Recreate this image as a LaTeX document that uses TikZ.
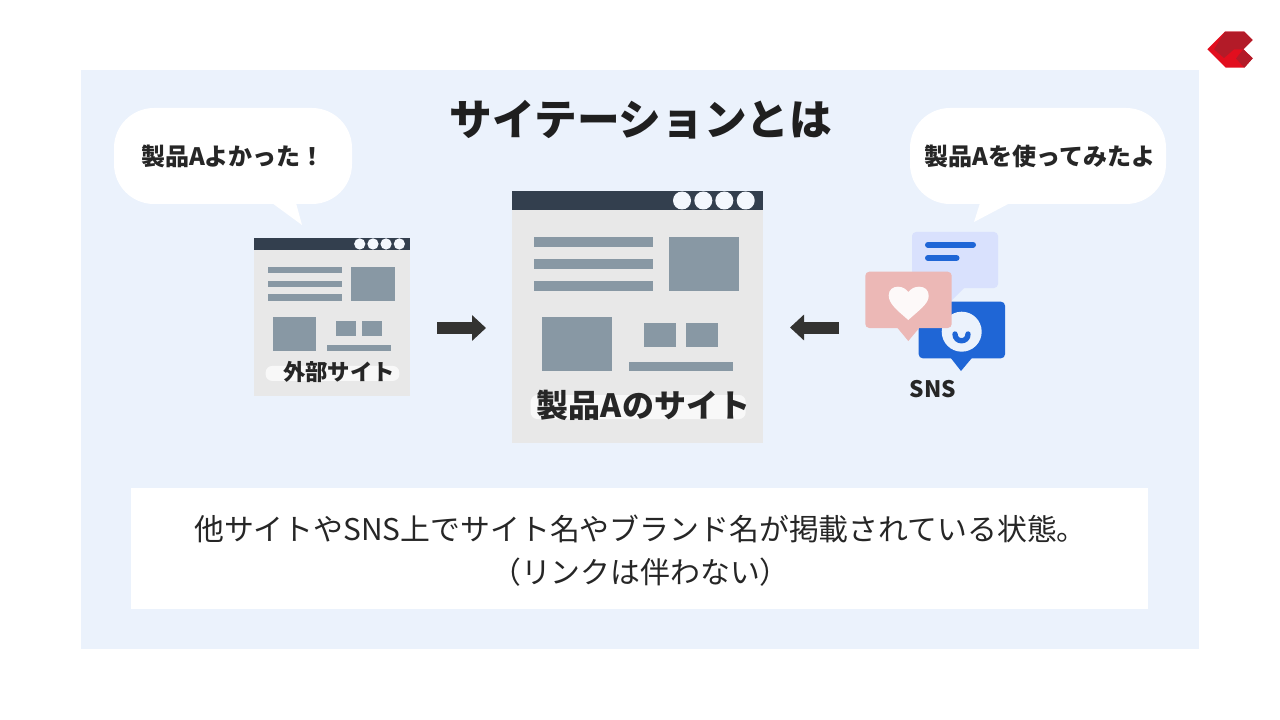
\documentclass[tikz,border=0pt]{standalone}
\usepackage{fontspec}
\setmainfont{Noto Sans CJK JP}
\usetikzlibrary{arrows.meta,positioning,calc}
\definecolor{panelblue}{HTML}{EBF2FC}
\definecolor{sitegrey}{HTML}{E8E8E8}
\definecolor{sitebar}{HTML}{333F4E}
\definecolor{siteblock}{HTML}{8898A4}
\definecolor{arrowdark}{HTML}{333331}
\definecolor{snsblue}{HTML}{1F66D6}
\definecolor{snslight}{HTML}{D9E1FD}
\definecolor{snspink}{HTML}{ECB8B6}
\definecolor{logored}{HTML}{E20E1E}
\definecolor{logodark}{HTML}{B31B28}
\tikzset{
    bubble/.style={fill=white, rounded corners=30pt, minimum height=72pt, inner sep=0pt, font=\bfseries\fontsize{18}{22}\selectfont, text=black!85},
    blockarrow/.style={draw=arrowdark, line width=9pt, -{Triangle[length=10.5pt,width=18.75pt]}},
    sitelabel/.style={inner sep=0pt, font=\bfseries, text=black!85},
}
\begin{document}
\begin{tikzpicture}[x=0.75pt,y=-0.75pt]
            \useasboundingbox (0,0) rectangle (1280,720);
            \fill[white] (0,0) rectangle (1280,720);
            \fill[panelblue] (81,70) rectangle (1199,649);
            % logo
            \fill[logored] (1207.3,49.3) -- (1225,31.7) -- (1244.3,31.7) -- (1252.7,40) -- (1243.3,49.3) -- (1252.7,58.3) -- (1244.3,67.7) -- (1225.7,67.7) -- cycle;
            \fill[logodark] (1225,31.7) -- (1244.3,31.7) -- (1252.7,40) -- (1243.3,49.3) -- (1234,49.3) -- (1224,58) -- (1214,49.3) -- cycle;
            \fill[logodark] (1243.3,49.3) -- (1252.7,58.3) -- (1244.3,67.7) -- (1236,58.5) -- cycle;
            \node[inner sep=0pt, font=\bfseries\fontsize{32}{36}\selectfont, text=black!88] (title) at (641,120) {サイテーションとは};
            % speech bubbles
            \node[bubble, minimum width=178.5pt] (talkext) at (233,156) {製品Aよかった！};
            \node[bubble, minimum width=192pt] (talksns) at (1038,156) {\hspace*{3pt}製品Aを使ってみたよ};
            \fill[white] (272,203) -- (302,225) -- (296,203) -- cycle;
            \fill[white] (980,203) -- (974,222) -- (1010,203) -- cycle;
            % site windows
            \foreach \wx/\wy/\ws/\wsy in {254/238/0.622/0.627, 512/191/1/1} {
                \begin{scope}[shift={(\wx,\wy)}, xscale=\ws, yscale=\wsy]
                    \fill[sitegrey] (0,0) rectangle (251,252);
                    \fill[sitebar] (0,0) rectangle (251,19);
                    \foreach \cx in {170,191.3,212.3,233.7} {
                        \fill[panelblue!60!white] (\cx,9.5) circle (9);
                    }
                    \foreach \ly in {46,68,90} {
                        \fill[siteblock] (22,\ly) rectangle (141,\ly+9.7);
                    }
                    \fill[siteblock] (156.7,46) rectangle (226.7,100);
                    \fill[siteblock] (30.3,125.7) rectangle (100.3,180);
                    \fill[siteblock] (132,132.3) rectangle (163.7,156.3);
                    \fill[siteblock] (174,132.3) rectangle (206,156.3);
                    \fill[siteblock] (117,170.7) rectangle (220.7,180);
                    \fill[white!70!sitegrey, rounded corners=5pt] (18.7,204) rectangle (233.7,228);
                \end{scope}
            }
            \node[sitelabel, font=\bfseries\fontsize{16.8}{20}\selectfont] (extsite) at (339,372) {外部サイト};
            \node[sitelabel, font=\bfseries\fontsize{24}{28}\selectfont] (mainsite) at (643.5,405) {製品Aのサイト};
            % sns icon
            \fill[snslight, rounded corners=3pt] (912,232) rectangle (998,288);
            \fill[snslight] (965,287) -- (950,302) -- (940,287) -- cycle;
            \draw[snsblue, line width=4.5pt, line cap=round] (928,244.7) -- (973,244.7);
            \draw[snsblue, line width=4.5pt, line cap=round] (928,258) -- (956.5,258);
            \fill[snsblue, rounded corners=3pt] (918.7,301.7) rectangle (1005,358.3);
            \fill[snsblue] (950,357) -- (961,371) -- (972.7,357) -- cycle;
            \fill[panelblue] (961.7,331.7) circle (20);
            \draw[snsblue, line width=4pt, line cap=round] (955,334) .. controls (955,343) and (968,343) .. (968,334);
            \fill[snspink, rounded corners=3pt] (865.3,271.7) rectangle (951.7,328);
            \fill[snspink] (896.7,327) -- (908.3,341) -- (920,327) -- cycle;
            \fill[white!92!snspink] (908.3,320) .. controls (898,311) and (888.7,304) .. (888.7,295.5) .. controls (888.7,289.5) and (893,286.7) .. (898,286.7) .. controls (902.5,286.7) and (906,289) .. (908.3,292) .. controls (911,289) and (914,286.7) .. (919,286.7) .. controls (925,286.7) and (928.7,290) .. (928.7,296) .. controls (928.7,304) and (918,311) .. (908.3,320) -- cycle;
            \node[sitelabel, font=\bfseries\fontsize{17}{20}\selectfont] (snslabel) at (933,389) {SNS};
            % arrows
            \coordinate (extout) at (437,328);
            \coordinate (mainin) at (486,328);
            \coordinate (snsout) at (839,327.5);
            \coordinate (mainright) at (790,327.5);
            \draw[blockarrow] (extout) -- (mainin);
            \draw[blockarrow] (snsout) -- (mainright);
            % note
            \node[fill=white, minimum width=763pt, minimum height=91pt, inner sep=0pt] (note) at (639.7,548.7) {};
            \node[inner sep=0pt, align=center, font=\fontsize{22.4}{32}\selectfont, text=black!85] (notetext) at (640.5,550.5) {他サイトやSNS上でサイト名やブランド名が掲載されている状態。\\（リンクは伴わない）};
        \end{tikzpicture}
\end{document}
